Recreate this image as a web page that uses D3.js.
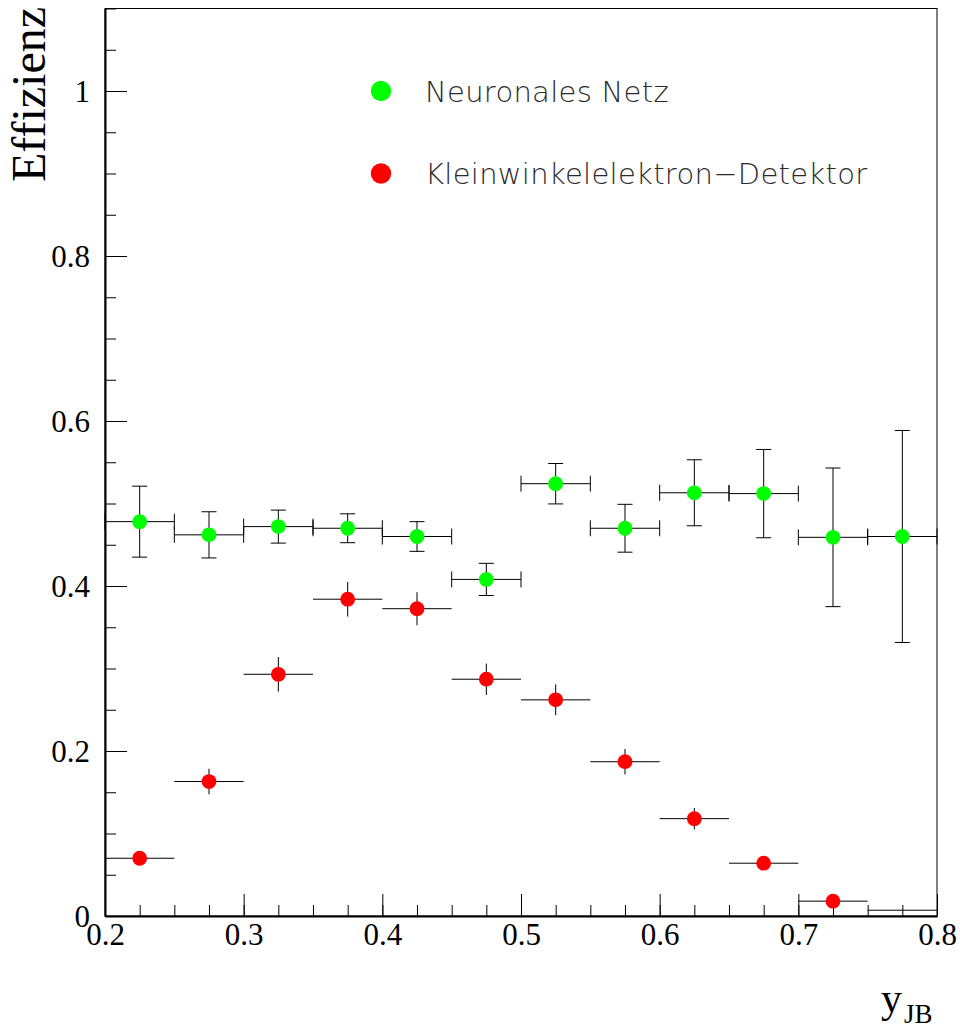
<!DOCTYPE html>
<html>
<head>
<meta charset="utf-8">
<script src="https://cdn.jsdelivr.net/npm/d3@7"></script>
<style>
  html, body { margin: 0; padding: 0; background: #fff; }
  svg { display: block; }
</style>
</head>
<body>
<svg id="chart" width="960" height="1032"></svg>
<script>
// ---- data ----
const binCenters = [0.225, 0.275, 0.325, 0.375, 0.425, 0.475, 0.525, 0.575, 0.625, 0.675, 0.725, 0.775];
const binHalfWidth = 0.025;
const nnEff = [0.478, 0.462, 0.472, 0.470, 0.460, 0.408, 0.524, 0.470, 0.513, 0.512, 0.459, 0.460];
const nnErr = [0.043, 0.028, 0.020, 0.0175, 0.018, 0.0195, 0.0245, 0.029, 0.040, 0.0535, 0.084, 0.1285];
const kleEff = [0.070, 0.163, 0.293, 0.384, 0.3725, 0.287, 0.262, 0.187, 0.118, 0.064, 0.018, 0.007];
const kleErr = [0.007, 0.0155, 0.021, 0.021, 0.020, 0.019, 0.0187, 0.0154, 0.013, 0.008, 0.005, 0.0];
const xTickValues = [0.2, 0.3, 0.4, 0.5, 0.6, 0.7, 0.8];
const xTickLabels = ["0.2", "0.3", "0.4", "0.5", "0.6", "0.7", "0.8"];
const yTickValues = [0, 0.2, 0.4, 0.6, 0.8, 1.0];
const yTickLabels = ["0", "0.2", "0.4", "0.6", "0.8", "1"];
const seriesNames = ["Neuronales Netz", "Kleinwinkelelektron\u2212Detektor"];
const seriesColors = ["#00ff00", "#ff0000"];

// ---- layout ----
const svg = d3.select("#chart");
const L = 105, R = 937, T = 8.5, B = 916;
const x = d3.scaleLinear().domain([0.2, 0.8]).range([L, R]);
const y = d3.scaleLinear().domain([0, 1.1]).range([B, T]);
const serif = "'Liberation Serif', 'Times New Roman', serif";

// frame
svg.append("rect").attr("x", L).attr("y", T).attr("width", R - L).attr("height", B - T)
  .attr("fill", "none").attr("stroke", "#000").attr("stroke-width", 1);

// minor ticks
const xMinor = d3.range(0, 25).map(i => +(0.2 + i * 0.025).toFixed(3));
const yMinor = d3.range(0, 23).map(i => +(i * 0.05).toFixed(2));

svg.append("g").attr("transform", `translate(0,${B})`)
  .call(d3.axisBottom(x).tickValues(xMinor).tickSize(-11).tickSizeOuter(0).tickFormat(""))
  .call(g => g.select(".domain").remove())
  .selectAll("line").attr("stroke", "#000").attr("stroke-width", 1);

svg.append("g").attr("transform", `translate(${L},0)`)
  .call(d3.axisLeft(y).tickValues(yMinor).tickSize(-11).tickSizeOuter(0).tickFormat(""))
  .call(g => g.select(".domain").remove())
  .selectAll("line").attr("stroke", "#000").attr("stroke-width", 1);

// major axes
const xAxis = svg.append("g").attr("transform", `translate(0,${B})`)
  .call(d3.axisBottom(x).tickValues(xTickValues).tickSize(-22).tickSizeOuter(0)
    .tickFormat((d, i) => xTickLabels[i]));
xAxis.select(".domain").attr("stroke", "#000").attr("stroke-width", 2);
xAxis.selectAll("line").attr("stroke", "#000").attr("stroke-width", 1);
xAxis.selectAll("text").attr("y", 29).attr("dy", null)
  .attr("font-family", serif).attr("font-size", 31).attr("fill", "#000");

const yAxis = svg.append("g").attr("transform", `translate(${L},0)`)
  .call(d3.axisLeft(y).tickValues(yTickValues).tickSize(-22).tickSizeOuter(0).tickPadding(15)
    .tickFormat((d, i) => yTickLabels[i]));
yAxis.select(".domain").attr("stroke", "#000").attr("stroke-width", 2);
yAxis.selectAll("line").attr("stroke", "#000").attr("stroke-width", 1);
yAxis.selectAll("text").attr("dy", "0.33em")
  .attr("font-family", serif).attr("font-size", 31).attr("fill", "#000");

// axis titles
svg.append("text").attr("transform", `translate(45,7) rotate(-90)`)
  .attr("text-anchor", "end").attr("font-family", serif).attr("font-size", 48)
  .attr("fill", "#000").text("Effizienz");

const xt = svg.append("text").attr("font-family", serif).attr("fill", "#000");
xt.append("tspan").attr("x", 881).attr("y", 1012).attr("font-size", 42).text("y");
xt.append("tspan").attr("x", 904).attr("y", 1023).attr("font-size", 27).text("JB");

// ---- series ----
function drawSeries(vals, errs, color, caps) {
  const g = svg.append("g");
  const pts = binCenters.map((c, i) => ({ c, v: vals[i], e: errs[i] }));
  const capW = 7.5, capH = 8;
  pts.forEach(p => {
    const cx = x(p.c), cy = y(p.v);
    // horizontal bar
    g.append("line").attr("x1", x(p.c - binHalfWidth)).attr("x2", x(p.c + binHalfWidth))
      .attr("y1", cy).attr("y2", cy).attr("stroke", "#000").attr("stroke-width", 1);
    // vertical bar
    if (p.e > 0) {
      g.append("line").attr("x1", cx).attr("x2", cx)
        .attr("y1", y(p.v + p.e)).attr("y2", y(p.v - p.e)).attr("stroke", "#000").attr("stroke-width", 1);
    }
    if (caps) {
      [p.c - binHalfWidth, p.c + binHalfWidth].forEach(xe => {
        g.append("line").attr("x1", x(xe)).attr("x2", x(xe)).attr("y1", cy - capH).attr("y2", cy + capH)
          .attr("stroke", "#000").attr("stroke-width", 1);
      });
      [p.v + p.e, p.v - p.e].forEach(ye => {
        g.append("line").attr("x1", cx - capW).attr("x2", cx + capW).attr("y1", y(ye)).attr("y2", y(ye))
          .attr("stroke", "#000").attr("stroke-width", 1);
      });
    }
  });
  // markers (the reference shows no marker for the near-zero last bin)
  g.selectAll("circle").data(pts.filter(p => p.v >= 0.01)).join("circle")
    .attr("cx", p => x(p.c)).attr("cy", p => y(p.v)).attr("r", 7.4).attr("fill", color);
}
drawSeries(nnEff, nnErr, seriesColors[0], true);
drawSeries(kleEff, kleErr, seriesColors[1], false);

// ---- legend ----
const legY = [91, 173.5];
const leg = svg.append("g");
seriesNames.forEach((name, i) => {
  leg.append("circle").attr("cx", 381).attr("cy", legY[i]).attr("r", 10.2).attr("fill", seriesColors[i]);
  leg.append("text").attr("x", 425).attr("y", legY[i] + 10.8)
    .attr("font-family", "'DejaVu Sans ExtraLight', 'DejaVu Sans', sans-serif").attr("font-weight", 200)
    .attr("font-size", 29).attr("letter-spacing", 0.3).attr("fill", "#2a2a2a").text(name);
});
</script>
</body>
</html>
